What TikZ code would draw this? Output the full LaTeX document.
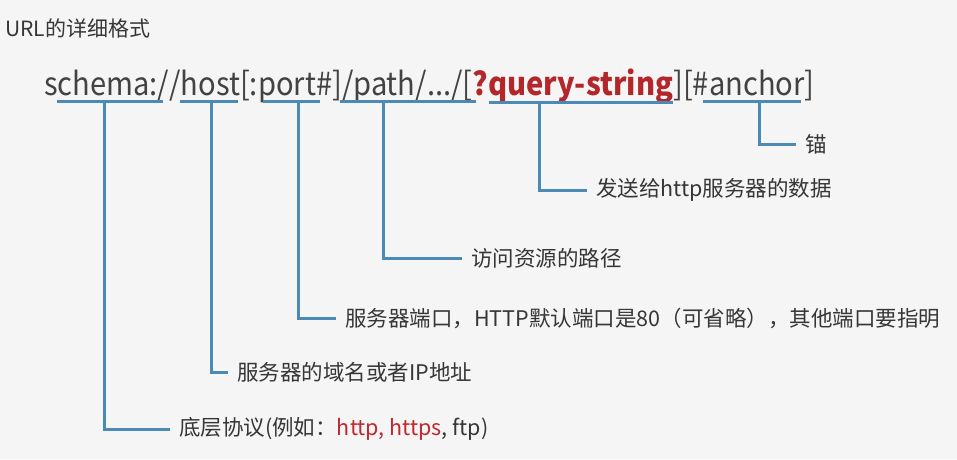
\documentclass[tikz,border=0pt]{standalone}
\usepackage{fontspec}
\setmainfont{Noto Sans CJK SC}
\begin{document}
\begin{tikzpicture}[x=1pt,y=-1pt,
  lbl/.style={anchor=west,inner xsep=9pt,inner ysep=0pt,text=txt,font=\fontsize{21.5}{24}\selectfont},
  uline/.style={draw=lineblue,line width=3pt},
  conn/.style={draw=lineblue,line width=3pt}]
\definecolor{bg}{HTML}{F5F5F5}
\definecolor{txt}{HTML}{363636}
\definecolor{urltxt}{HTML}{424242}
\definecolor{lineblue}{HTML}{4A8AB5}
\definecolor{qred}{HTML}{B3262A}
\definecolor{lred}{HTML}{C0282D}
\fill[bg] (0,0) rectangle (957,459);
\useasboundingbox (0,0) rectangle (957,459);

\node[anchor=west,inner sep=0pt,text=txt,font=\fontsize{21}{24}\selectfont] (title) at (5,28) {URL的详细格式};

\node[anchor=base west,inner sep=0pt,text=urltxt,font=\fontsize{32}{36}\selectfont] (url) at (44,95)
  {\scalebox{0.91}[1]{schema://host[:port\#]/path/.../[\textcolor{qred}{\bfseries ?query-string}][\#anchor]}};

% underlines
\coordinate (s1) at (57,101);  \coordinate (s2) at (163,101); \coordinate (sm) at (104,101);
\coordinate (h1) at (180,101); \coordinate (h2) at (238,101); \coordinate (hm) at (211,101);
\coordinate (p1) at (263,101); \coordinate (p2) at (320,101); \coordinate (pm) at (298,101);
\coordinate (a1) at (340,101); \coordinate (a2) at (476,101); \coordinate (am) at (383,101);
\coordinate (q1) at (489,102); \coordinate (q2) at (673,102); \coordinate (qm) at (539,102);
\coordinate (n1) at (703,101); \coordinate (n2) at (801,101); \coordinate (nm) at (759,101);
\foreach \a/\b in {s1/s2,h1/h2,p1/p2,a1/a2,q1/q2,n1/n2} \draw[uline] (\a) -- (\b);

% labels
\node[lbl] (lanchor) at (796,144) {锚};
\node[lbl] (lquery) at (587,190) {发送给http服务器的数据};
\node[lbl] (lpath) at (462,258) {访问资源的路径};
\node[lbl] (lport) at (336,318) {服务器端口，HTTP默认端口是80（可省略），其他端口要指明};
\node[lbl] (lhost) at (228,372) {服务器的域名或者IP地址};
\node[lbl] (lschema) at (170,429) {底层协议(例如：\textcolor{lred}{http, https}, ftp)};

\draw[conn] (nm) |- (lanchor.west);
\draw[conn] (qm) |- (lquery.west);
\draw[conn] (am) |- (lpath.west);
\draw[conn] (pm) |- (lport.west);
\draw[conn] (hm) |- (lhost.west);
\draw[conn] (sm) |- (lschema.west);
\end{tikzpicture}
\end{document}
